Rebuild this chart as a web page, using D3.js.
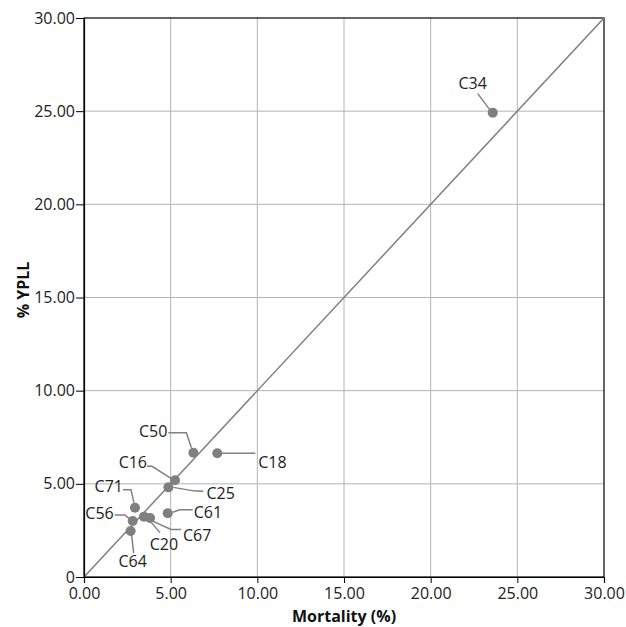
<!DOCTYPE html>
<html>
<head>
<meta charset="utf-8">
<script src="https://cdn.jsdelivr.net/npm/d3@7"></script>
<style>
  body { margin: 0; background: #fff; }
  text { font-family: "Open Sans", sans-serif; }
</style>
</head>
<body>
<span></span>
<script>
let width = 626;
let height = 627;
let margin = { top: 18, right: 22, bottom: 50, left: 84 };

// data: cancer site, mortality (%), % YPLL
let sites = ["C34", "C50", "C18", "C16", "C25", "C71", "C61", "C56", "C20", "C67", "C64"];
let mortality = [23.58, 6.31, 7.69, 5.25, 4.87, 2.94, 4.83, 2.81, 3.46, 3.81, 2.69];
let ypll = [24.92, 6.67, 6.64, 5.19, 4.81, 3.72, 3.42, 3.01, 3.24, 3.17, 2.47];

let xTicks = [0, 5, 10, 15, 20, 25, 30];
let yTicks = [0, 5, 10, 15, 20, 25, 30];

// label placement (pixel offsets from the dot): text anchor, dx, dy, leader points
let labelLayout = [
    { anchor: "middle", dx: -20, dy: -24, leader: [[-15, -19], [-3, -3]] },
    { anchor: "end", dx: -26, dy: -16, leader: [[-25, -20], [-7, -20], [-2, -5]] },
    { anchor: "start", dx: 41, dy: 15, leader: [[0, 0], [38, 0]] },
    { anchor: "end", dx: -28, dy: -12, leader: [[-28, -14], [-23, -14], [-4, -2]] },
    { anchor: "start", dx: 38, dy: 12, leader: [[5, 0], [25, 3.5], [35, 4]] },
    { anchor: "end", dx: -12, dy: -16, leader: [[-12, -18], [-4, -18], [-1, -5]] },
    { anchor: "start", dx: 26, dy: 5, leader: [[5, -1], [12, -3.5], [25, -3.5]] },
    { anchor: "end", dx: -19, dy: -2, leader: [[-18, -6], [-8, -6], [-3, -2]] },
    { anchor: "middle", dx: 20, dy: 33, leader: [[4, 2], [16, 16]] },
    { anchor: "start", dx: 33, dy: 23, leader: [[2, 3], [21, 11.5], [31, 11.5]] },
    { anchor: "middle", dx: 2, dy: 36, leader: [[1, 4], [3, 22]] }
];

let svg = d3.select("span")
    .append("svg")
    .attr("width", width)
    .attr("height", height);

let x = d3.scaleLinear().domain([0, 30]).range([margin.left, width - margin.right]);
let y = d3.scaleLinear().domain([0, 30]).range([height - margin.bottom, margin.top]);

// grid
svg.append("g")
    .selectAll("line.vg")
    .data(xTicks.slice(1, -1))
    .join("line")
    .attr("x1", d => x(d)).attr("x2", d => x(d))
    .attr("y1", y(0)).attr("y2", y(30))
    .attr("stroke", "#b4b4b4").attr("stroke-width", 1);

svg.append("g")
    .selectAll("line.hg")
    .data(yTicks.slice(1, -1))
    .join("line")
    .attr("x1", x(0)).attr("x2", x(30))
    .attr("y1", d => y(d)).attr("y2", d => y(d))
    .attr("stroke", "#b4b4b4").attr("stroke-width", 1);

// frame top / right
svg.append("rect")
    .attr("x", x(0)).attr("y", y(30))
    .attr("width", x(30) - x(0)).attr("height", y(0) - y(30))
    .attr("fill", "none").attr("stroke", "#000").attr("stroke-width", 1.2);

// diagonal y = x
svg.append("line")
    .attr("x1", x(0)).attr("y1", y(0))
    .attr("x2", x(30)).attr("y2", y(30))
    .attr("stroke", "#7f7f7f").attr("stroke-width", 1.5);

// axes
let xAxis = svg.append("g")
    .attr("transform", "translate(0," + y(0) + ")")
    .call(d3.axisBottom(x).tickValues(xTicks).tickFormat(d3.format(".2f")).tickSize(6).tickPadding(5));

let yAxis = svg.append("g")
    .attr("transform", "translate(" + x(0) + ",0)")
    .call(d3.axisLeft(y).tickValues(yTicks).tickFormat(d => d === 0 ? "0" : d3.format(".2f")(d)).tickSize(8).tickPadding(1));

[xAxis, yAxis].forEach(a => {
    a.select(".domain").attr("stroke", "#000").attr("stroke-width", 1.2);
    a.selectAll(".tick line").attr("stroke", "#000");
    a.selectAll("text").attr("font-size", 16).attr("fill", "#222")
        .attr("font-family", "Open Sans, sans-serif");
});

// axis titles
svg.append("text")
    .attr("x", (x(0) + x(30)) / 2)
    .attr("y", height - 5)
    .attr("text-anchor", "middle")
    .attr("font-size", 16).attr("font-weight", "bold")
    .attr("fill", "#111")
    .text("Mortality (%)");

svg.append("text")
    .attr("transform", "translate(29,290) rotate(-90)")
    .attr("text-anchor", "middle")
    .attr("font-size", 16).attr("font-weight", "bold")
    .attr("fill", "#111")
    .text("% YPLL");

// leaders
let line = d3.line();
sites.forEach(function (s, i) {
    let px = x(mortality[i]);
    let py = y(ypll[i]);
    let lay = labelLayout[i];
    svg.append("path")
        .attr("d", line(lay.leader.map(p => [px + p[0], py + p[1]])))
        .attr("fill", "none")
        .attr("stroke", "#808080")
        .attr("stroke-width", 1.5);
});

// dots
svg.append("g")
    .selectAll("circle")
    .data(sites)
    .join("circle")
    .attr("cx", (d, i) => x(mortality[i]))
    .attr("cy", (d, i) => y(ypll[i]))
    .attr("r", 5)
    .attr("fill", "#7f7f7f");

// labels
svg.append("g")
    .selectAll("text")
    .data(sites)
    .join("text")
    .attr("x", (d, i) => x(mortality[i]) + labelLayout[i].dx)
    .attr("y", (d, i) => y(ypll[i]) + labelLayout[i].dy)
    .attr("text-anchor", (d, i) => labelLayout[i].anchor)
    .attr("font-size", 16)
    .attr("fill", "#222")
    .text(d => d);
</script>
</body>
</html>
